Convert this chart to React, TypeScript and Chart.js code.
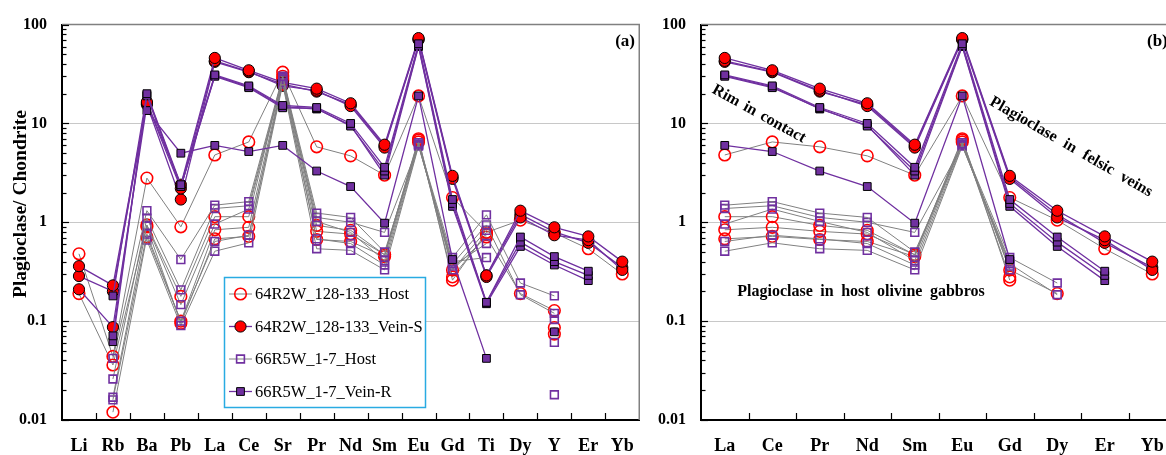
import React, { useEffect, useRef } from 'react';
import { Chart, registerables } from 'chart.js';

Chart.register(...registerables);

const FONT = "'Liberation Serif', 'Times New Roman', serif";

// categories
const elementsA = ['Li', 'Rb', 'Ba', 'Pb', 'La', 'Ce', 'Sr', 'Pr', 'Nd', 'Sm', 'Eu', 'Gd', 'Ti', 'Dy', 'Y', 'Er', 'Yb'];
const elementsB = ['La', 'Ce', 'Pr', 'Nd', 'Sm', 'Eu', 'Gd', 'Dy', 'Er', 'Yb'];
const yTickValues = [0.01, 0.1, 1, 10, 100];
const yTickLabels = ['0.01', '0.1', '1', '10', '100'];

// 64R2W_128-133_Host (open red circles), order follows elementsA
const host64Rim = [0.48, 0.044, 2.8, 0.9, 4.8, 6.5, 33, 5.8, 4.7, 3.0, 19, 1.78, 0.79, 1.05, 0.78, 0.54, 0.30];
const host64A = [0.19, 0.036, 0.94, 0.178, 1.14, 1.14, 30, 0.93, 0.83, 0.47, 6.8, 0.33, 0.71, 0.19, 0.128, null, null];
const host64B = [null, 0.012, 0.71, 0.1, 0.84, 0.89, 28, 0.81, 0.76, 0.47, 7.0, 0.26, 0.79, null, 0.086, null, null];
const host64C = [null, null, 0.9, 0.095, 0.68, 0.72, 27, 0.67, 0.64, 0.45, 6.5, 0.28, 0.75, null, 0.074, null, null];

// 64R2W_128-133_Vein-S (filled red circles)
const veinS1 = [0.36, 0.23, 16.5, 2.4, 46, 34.5, 26, 22.5, 16, 6.1, 73, 2.95, 0.29, 1.31, 0.89, 0.72, 0.40];
const veinS2 = [0.286, 0.20, 16, 2.2, 43, 33.5, 24, 21.5, 15, 5.7, 70, 2.75, 0.28, 1.12, 0.74, 0.66, 0.33];
const veinS3 = [0.21, 0.087, 15.5, 1.7, 42, 33, 25, 21, 15.5, 5.9, 71, 2.85, 0.29, 1.2, 0.8, 0.62, 0.35];

// 66R5W_1-7_Host (open purple squares)
const host66A = [null, 0.042, 1.31, 0.42, 1.49, 1.62, 30, 1.24, 1.12, 0.50, 6.2, 0.44, 1.19, 0.243, 0.18, null, null];
const host66B = [null, 0.026, 1.1, 0.207, 1.38, 1.47, 29, 1.12, 1.0, 0.79, 6.0, 0.38, 0.94, 0.185, 0.12, null, null];
const host66C = [null, 0.017, 0.93, 0.147, 0.96, 1.36, 28, 1.02, 0.79, 0.41, 6.4, 0.33, 0.83, null, 0.104, null, null];
const host66D = [null, 0.016, 0.76, 0.1, 0.64, 0.74, 26, 0.68, 0.61, 0.37, 6.1, 0.36, 0.61, null, 0.061, null, null];
const host66E = [null, null, 0.66, 0.09, 0.51, 0.62, 25, 0.54, 0.52, 0.33, 5.9, 0.40, 0.44, null, 0.018, null, null];

// 66R5W_1-7_Vein-R (filled purple squares)
const veinR1 = [null, 0.18, 20, 2.4, 31, 24, 15.2, 14.5, 10, 3.6, 64, 1.7, 0.155, 0.71, 0.45, 0.32, null];
const veinR2 = [null, 0.071, 19, 2.3, 30, 23, 14.4, 14.2, 9.4, 3.3, 61, 1.55, 0.155, 0.63, 0.40, 0.29, null];
const veinR3 = [null, 0.062, 19.5, 2.3, 30.5, 23.5, 14.8, 14, 9.6, 3.0, 60, 1.45, 0.15, 0.57, 0.37, 0.257, null];
const veinR4 = [null, null, 13.5, 5.0, 6.0, 5.2, 6.0, 3.3, 2.3, 0.98, 19, 0.42, 0.042, null, 0.078, null, null];

const RED = '#FF0000';
const PURPLE = '#7030A0';
const GRAY = '#808080';

type Kind = 'hostCircle' | 'veinCircle' | 'hostSquare' | 'veinSquare';

const groups: { label: string; kind: Kind; rows: (number | null)[][] }[] = [
  { label: '66R5W_1-7_Vein-R', kind: 'veinSquare', rows: [veinR1, veinR2, veinR3, veinR4] },
  { label: '66R5W_1-7_Host', kind: 'hostSquare', rows: [host66A, host66B, host66C, host66D, host66E] },
  { label: '64R2W_128-133_Vein-S', kind: 'veinCircle', rows: [veinS1, veinS2, veinS3] },
  { label: '64R2W_128-133_Host', kind: 'hostCircle', rows: [host64Rim, host64A, host64B, host64C] },
];

const legendOrder: Kind[] = ['hostCircle', 'veinCircle', 'hostSquare', 'veinSquare'];

function styleFor(kind: Kind) {
  switch (kind) {
    case 'hostCircle':
      return { line: GRAY, lw: 1, style: 'circle', r: 5.8, pbw: 1.6, pbc: RED, pbg: 'rgba(0,0,0,0)' };
    case 'veinCircle':
      return { line: PURPLE, lw: 1.3, style: 'circle', r: 5.6, pbw: 1, pbc: '#000', pbg: RED };
    case 'hostSquare':
      return { line: GRAY, lw: 1, style: 'rect', r: 5.5, pbw: 1.6, pbc: PURPLE, pbg: 'rgba(0,0,0,0)' };
    default:
      return { line: PURPLE, lw: 1.3, style: 'rect', r: 5.5, pbw: 1, pbc: '#000', pbg: PURPLE };
  }
}

function buildDatasets(cats: string[]) {
  const ds: any[] = [];
  groups.forEach((g) => {
    const s = styleFor(g.kind);
    g.rows.forEach((row, i) => {
      ds.push({
        label: g.label + ' #' + (i + 1),
        data: cats.map((c) => row[elementsA.indexOf(c)]),
        borderColor: s.line,
        borderWidth: s.lw,
        pointStyle: s.style,
        pointRadius: s.r,
        pointHoverRadius: s.r,
        pointBorderWidth: s.pbw,
        pointBorderColor: s.pbc,
        pointBackgroundColor: s.pbg,
        spanGaps: false,
        tension: 0,
        fill: false,
      });
    });
  });
  return ds;
}

function drawMarker(ctx: CanvasRenderingContext2D, kind: Kind, x: number, y: number) {
  const s = styleFor(kind);
  ctx.save();
  ctx.lineWidth = s.pbw;
  ctx.strokeStyle = s.pbc;
  ctx.fillStyle = s.pbg;
  ctx.beginPath();
  if (s.style === 'circle') {
    ctx.arc(x, y, s.r, 0, Math.PI * 2);
  } else {
    const h = s.r * Math.SQRT1_2;
    ctx.rect(x - h, y - h, 2 * h, 2 * h);
  }
  ctx.fill();
  ctx.stroke();
  ctx.restore();
}

function drawRotated(ctx: CanvasRenderingContext2D, text: string, x: number, y: number, deg: number, font: string, wordSpacing = 0) {
  ctx.save();
  ctx.translate(x, y);
  ctx.rotate((deg * Math.PI) / 180);
  ctx.font = font;
  ctx.fillStyle = '#000';
  ctx.textAlign = 'center';
  ctx.textBaseline = 'middle';
  try {
    (ctx as any).wordSpacing = wordSpacing + 'px';
  } catch (e) {}
  ctx.fillText(text, 0, 0);
  ctx.restore();
}

function makeDecor(panel: 'a' | 'b', offsetX: number) {
  return {
    id: 'decor' + panel,
    afterDraw(chart: any) {
      const { ctx, chartArea: ca, scales } = chart;
      const ys = scales.y;
      const xs = scales.x;
      ctx.save();
      // top and right frame
      ctx.strokeStyle = '#808080';
      ctx.lineWidth = 1.5;
      ctx.beginPath();
      ctx.moveTo(ca.left, ca.top);
      ctx.lineTo(ca.right, ca.top);
      ctx.lineTo(ca.right, ca.bottom);
      ctx.stroke();
      // inner y ticks
      ctx.strokeStyle = '#000';
      ctx.lineWidth = 1.2;
      for (let d = -2; d <= 2; d++) {
        for (let m = 1; m <= 9; m++) {
          const v = m * Math.pow(10, d);
          if (v > 100.0001) continue;
          const py = Math.round(ys.getPixelForValue(v)) + 0.5;
          const len = m === 1 ? 7 : 4.5;
          ctx.beginPath();
          ctx.moveTo(ca.left, py);
          ctx.lineTo(ca.left + len, py);
          ctx.stroke();
        }
      }
      // inner x ticks
      const n = xs.ticks.length;
      const w = (ca.right - ca.left) / n;
      ctx.lineWidth = 1.2;
      for (let k = 1; k < n; k++) {
        const px = Math.round(ca.left + k * w) + 0.5;
        ctx.beginPath();
        ctx.moveTo(px, ca.bottom);
        ctx.lineTo(px, ca.bottom - 7);
        ctx.stroke();
      }
      ctx.restore();

      if (panel === 'a') {
        ctx.save();
        ctx.font = `bold 17px ${FONT}`;
        ctx.fillStyle = '#000';
        ctx.textAlign = 'right';
        ctx.textBaseline = 'middle';
        ctx.fillText('(a)', 635, 42);
        ctx.restore();
        drawRotated(ctx, 'Plagioclase/ Chondrite', 21, 204, -90, `bold 19.5px ${FONT}`);
        // legend
        ctx.save();
        ctx.fillStyle = '#fff';
        ctx.fillRect(224, 277, 201, 130);
        ctx.strokeStyle = '#29ABE2';
        ctx.lineWidth = 1.5;
        ctx.strokeRect(224.5, 277.5, 201, 130);
        legendOrder.forEach((kind, i) => {
          const g = groups.find((gg) => gg.kind === kind)!;
          const s = styleFor(kind);
          const y = 294 + i * 32.5;
          ctx.strokeStyle = s.line;
          ctx.lineWidth = s.lw;
          ctx.beginPath();
          ctx.moveTo(229, y);
          ctx.lineTo(252, y);
          ctx.stroke();
          drawMarker(ctx, kind, 240.5, y);
          ctx.font = `normal 400 16.5px ${FONT}`;
          ctx.fillStyle = '#000';
          ctx.textAlign = 'left';
          ctx.textBaseline = 'middle';
          ctx.fillText(g.label, 255, y + 1);
        });
        ctx.restore();
      } else {
        ctx.save();
        ctx.font = `bold 17px ${FONT}`;
        ctx.fillStyle = '#000';
        ctx.textAlign = 'left';
        ctx.textBaseline = 'middle';
        ctx.fillText('(b)', 1147 - offsetX, 42);
        ctx.restore();
        drawRotated(ctx, 'Rim in contact', 759 - offsetX, 114, 29, `bold 16px ${FONT}`, 2);
        drawRotated(ctx, 'Plagioclase in felsic veins', 1071 - offsetX, 147, 30, `bold 16px ${FONT}`, 5);
        drawRotated(ctx, 'Plagioclase in host olivine gabbros', 861 - offsetX, 292, 0, `bold 16px ${FONT}`, 3.5);
      }
    },
  };
}

function makeConfig(panel: 'a' | 'b', cats: string[], yWidth: number, padRight: number, offsetX: number): any {
  return {
    type: 'line',
    data: { labels: cats, datasets: buildDatasets(cats) },
    options: {
      animation: false,
      responsive: false,
      maintainAspectRatio: false,
      devicePixelRatio: 1,
      layout: { padding: { top: 20, right: padRight, left: 0, bottom: 0 } },
      plugins: { legend: { display: false }, tooltip: { enabled: false }, title: { display: false } },
      events: [],
      scales: {
        x: {
          type: 'category',
          offset: true,
          grid: { display: true, drawOnChartArea: false, drawTicks: false, color: 'rgba(0,0,0,0)' },
          border: { display: true, color: '#000', width: 2 },
          ticks: { color: '#000', font: { family: FONT, size: 18, weight: 'bold' }, padding: 16, autoSkip: false, maxRotation: 0 },
          afterFit: (s: any) => {
            s.height = 35;
          },
        },
        y: {
          type: 'logarithmic',
          min: 0.01,
          max: 100,
          afterBuildTicks: (s: any) => {
            s.ticks = yTickValues.map((v) => ({ value: v }));
          },
          ticks: {
            color: '#000',
            font: { family: FONT, size: 16, weight: 'bold' },
            padding: 15,
            callback: (v: any) => {
              const i = yTickValues.findIndex((t) => Math.abs(t - v) / t < 1e-6);
              return i >= 0 ? yTickLabels[i] : '';
            },
          },
          grid: { color: '#C8C8C8', lineWidth: 1, drawTicks: false },
          border: { display: true, color: '#000', width: 2 },
          afterFit: (s: any) => {
            s.width = yWidth;
          },
        },
      },
    },
    plugins: [makeDecor(panel, offsetX)],
  };
}

export default function App() {
  const leftRef = useRef<HTMLCanvasElement>(null);
  const rightRef = useRef<HTMLCanvasElement>(null);

  useEffect(() => {
    const c1 = new Chart(leftRef.current!, makeConfig('a', elementsA, 62, 5, 0));
    const c2 = new Chart(rightRef.current!, makeConfig('b', elementsB, 51, 14, 650));
    return () => {
      c1.destroy();
      c2.destroy();
    };
  }, []);

  return (
    <div style={{ position: 'fixed', left: 0, top: 0, width: 1166, height: 455, overflow: 'hidden', background: '#fff' }}>
      <canvas ref={leftRef} width={650} height={455} style={{ position: 'absolute', left: 0, top: 0, width: 650, height: 455 }} />
      <canvas ref={rightRef} width={540} height={455} style={{ position: 'absolute', left: 650, top: 0, width: 540, height: 455 }} />
    </div>
  );
}
